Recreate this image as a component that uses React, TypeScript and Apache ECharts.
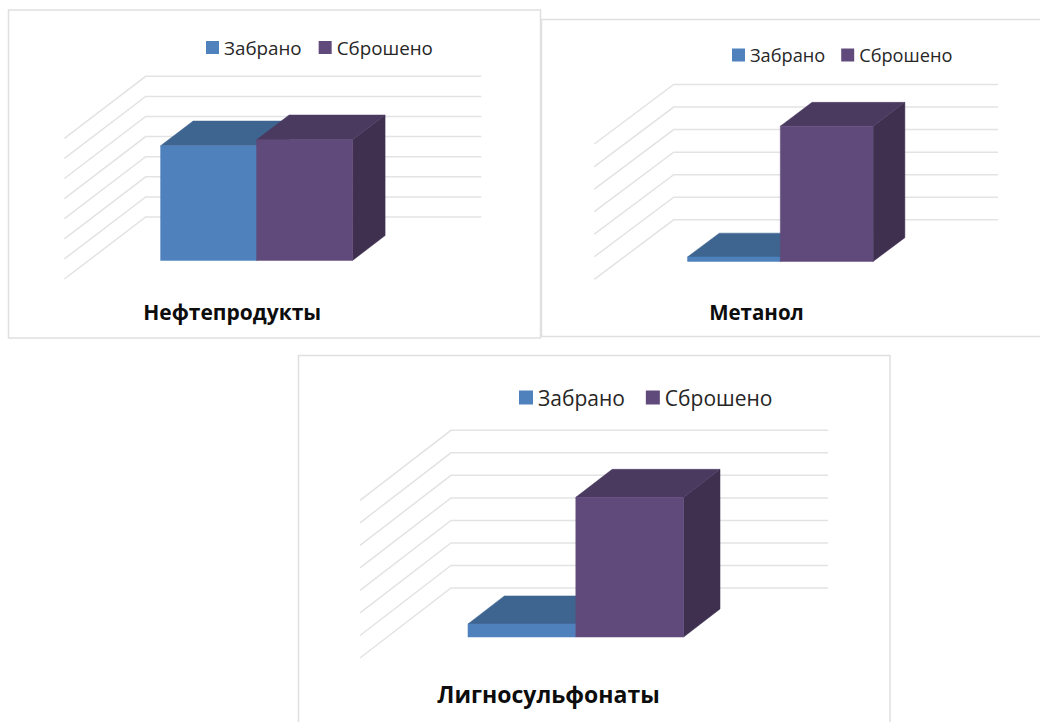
import React, { useEffect, useRef } from "react";
import * as echarts from "echarts";

const seriesNames = ["Забрано", "Сброшено"];
const categories = ["Нефтепродукты", "Метанол", "Лигносульфонаты"];
const taken = [5.7, 0.2, 0.58];
const dumped = [6.0, 6.0, 6.2];
const ticksA = [0, 1, 2, 3, 4, 5, 6, 7];
const ticksB = [0, 1, 2, 3, 4, 5, 6];
const ticksC = [0, 1, 2, 3, 4, 5, 6, 7];
const tickLists = [ticksA, ticksB, ticksC];

const FONT = "'Open Sans', 'Noto Sans', sans-serif";
const layouts = [
  { left: 64.4, right: 400, top: 138.3, bottom: 279, dx: 81.3, dy: 62, legendX: 206, legendY: 38, legendFont: 18.8, gap: 17, marker: 13, labelFont: 21, labelMargin: 22 },
  { left: 594.3, right: 918.7, top: 144, bottom: 279.3, dx: 79.4, dy: 59.5, legendX: 732, legendY: 46, legendFont: 18.2, gap: 16, marker: 13, labelFont: 20.5, labelMargin: 22 },
  { left: 360, right: 737, top: 500.3, bottom: 658, dx: 91, dy: 70, legendX: 519, legendY: 387, legendFont: 21, gap: 21, marker: 14, labelFont: 23, labelMargin: 24 },
];
const panels = [
  { x: 8.5, y: 10, w: 532, h: 328 },
  { x: 541.5, y: 19.5, w: 520, h: 317 },
  { x: 298.5, y: 355.5, w: 591.5, h: 400 },
];
const GRID_COLOR = "#e2e3e4";
const palette = [
  { front: "#4f81bd", top: "#3e6490", side: "#34547a" },
  { front: "#604a7b", top: "#4b3a60", side: "#3f3050" },
];
const T0 = 0.3;
const T1 = 0.7;
const BAR_FRACTION = 0.286;

export default function App() {
  const ref = useRef<HTMLDivElement>(null);
  useEffect(() => {
    document.body.style.margin = "0";
    document.body.style.background = "#fff";
    const chart = echarts.init(ref.current!, undefined, { renderer: "svg" });

    const grids: any[] = [];
    const xAxes: any[] = [];
    const yAxes: any[] = [];
    const series: any[] = [];
    const legends: any[] = [];

    layouts.forEach((l, i) => {
      const ticks = tickLists[i];
      grids.push({ left: l.left, top: l.top, width: l.right - l.left, height: l.bottom - l.top });
      xAxes.push({
        type: "category",
        gridIndex: i,
        data: [categories[i]],
        axisLine: { show: false },
        axisTick: { show: false },
        splitLine: { show: false },
        axisLabel: { fontFamily: FONT, fontWeight: "bold", fontSize: l.labelFont, color: "#0d0d0d", margin: l.labelMargin },
      });
      yAxes.push({
        type: "value",
        gridIndex: i,
        min: 0,
        max: ticks[ticks.length - 1],
        interval: 1,
        axisLine: { show: false },
        axisTick: { show: false },
        axisLabel: { show: false },
        splitLine: { show: false },
      });
      series.push({
        type: "custom",
        name: "grid" + i,
        xAxisIndex: i,
        yAxisIndex: i,
        z: 1,
        silent: true,
        data: ticks.map((t) => [0, t]),
        renderItem: (_p: any, api: any) => {
          const c = api.coord([api.value(0), api.value(1)]);
          const band = api.size([1, 0])[0];
          const x0 = c[0] - band / 2;
          const x1 = c[0] + band / 2;
          return {
            type: "polyline",
            shape: { points: [[x0, c[1]], [x0 + l.dx, c[1] - l.dy], [x1 + l.dx, c[1] - l.dy]] },
            style: { stroke: GRID_COLOR, lineWidth: 1.5, fill: "none" },
          };
        },
      });
      [taken[i], dumped[i]].forEach((v, s) => {
        const col = palette[s];
        series.push({
          type: "custom",
          name: seriesNames[s],
          xAxisIndex: i,
          yAxisIndex: i,
          z: 2 + s,
          itemStyle: { color: col.front },
          data: [[0, v]],
          renderItem: (_p: any, api: any) => {
            const top = api.coord([api.value(0), api.value(1)]);
            const base = api.coord([api.value(0), 0]);
            const band = api.size([1, 0])[0];
            const w = band * BAR_FRACTION;
            const xa = top[0] + (s - 1) * w + l.dx * T0;
            const xb = xa + w;
            const yt = top[1] - l.dy * T0;
            const yb = base[1] - l.dy * T0;
            const ox = l.dx * (T1 - T0);
            const oy = l.dy * (T1 - T0);
            const poly = (pts: number[][], fill: string) => ({
              type: "polygon",
              shape: { points: pts },
              style: { fill, stroke: fill, lineWidth: 0.5 },
            });
            return {
              type: "group",
              children: [
                poly([[xb, yt], [xb + ox, yt - oy], [xb + ox, yb - oy], [xb, yb]], col.side),
                poly([[xa, yt], [xa + ox, yt - oy], [xb + ox, yt - oy], [xb, yt]], col.top),
                poly([[xa, yt], [xb, yt], [xb, yb], [xa, yb]], col.front),
              ],
            };
          },
        });
      });
      legends.push({
        left: l.legendX,
        top: l.legendY,
        padding: 0,
        orient: "horizontal",
        selectedMode: false,
        itemWidth: l.marker,
        itemHeight: l.marker,
        itemGap: l.gap,
        textStyle: { fontFamily: FONT, fontSize: l.legendFont, color: "#262626" },
        data: seriesNames.map((name) => ({ name, icon: "rect" })),
      });
    });

    chart.setOption({
      animation: false,
      backgroundColor: "#ffffff",
      grid: grids,
      xAxis: xAxes,
      yAxis: yAxes,
      legend: legends,
      series,
      graphic: panels.map((p) => ({
        type: "rect",
        z: -10,
        silent: true,
        shape: { x: p.x, y: p.y, width: p.w, height: p.h },
        style: { fill: "#ffffff", stroke: "#dfe0e1", lineWidth: 1.5 },
      })),
    });
    return () => chart.dispose();
  }, []);
  return <div ref={ref} style={{ position: "absolute", left: 0, top: 0, width: 1040, height: 722 }} />;
}
